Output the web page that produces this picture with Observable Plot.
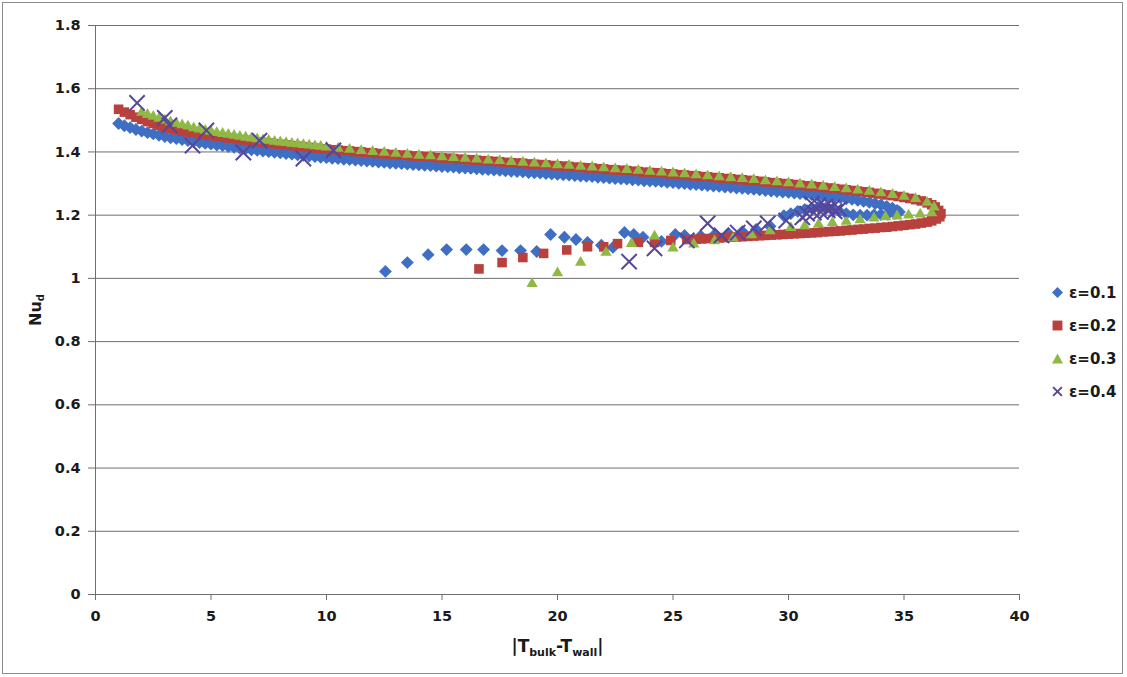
<!DOCTYPE html>
<html><head><meta charset="utf-8">
<script src="https://cdn.jsdelivr.net/npm/d3@7"></script>
<script src="https://cdn.jsdelivr.net/npm/@observablehq/plot@0.6"></script>
<style>
body{margin:0;background:#fff;}
#wrap{position:relative;width:1127px;height:677px;overflow:hidden;font-family:"DejaVu Sans",sans-serif;color:#1a1a1a;}
#frame{position:absolute;left:2px;top:2px;width:1121px;height:672px;border:1px solid #8c8c8c;box-sizing:border-box;pointer-events:none;}
#chart{position:absolute;left:0;top:0;}
.xt{position:absolute;left:0;width:1115px;text-align:center;top:636px;font-weight:bold;font-size:17px;}
.xt sub{font-size:11px;vertical-align:-4px;}
.yt{position:absolute;left:36px;top:310px;transform:translate(-50%,-50%) rotate(-90deg);font-weight:bold;font-size:16px;white-space:nowrap;}
.yt sub{font-size:10px;vertical-align:-3px;}
#legend{position:absolute;left:1052px;top:276px;font-weight:bold;font-size:15px;}
#legend .row{display:flex;align-items:center;height:33px;}
#legend svg{margin-right:6px;}
</style></head>
<body>
<div id="wrap">
  <div id="chart"></div>
  <div class="yt">Nu<sub>d</sub></div>
  <div class="xt">|T<sub>bulk</sub>-T<sub>wall</sub>|</div>
  <div id="legend"></div>
  <div id="frame"></div>
</div>
<script>
const seriesNames = ["ε=0.1", "ε=0.2", "ε=0.3", "ε=0.4"];
const xTicks = [0, 5, 10, 15, 20, 25, 30, 35, 40];
const yTicks = [0, 0.2, 0.4, 0.6, 0.8, 1, 1.2, 1.4, 1.6, 1.8];

// ε=0.1  [|Tbulk-Twall|, Nu_d]
const blueUpper = [[1,1.49],[1.25,1.483],[1.5,1.477],[1.75,1.471],[2,1.466],[2.25,1.461],[2.5,1.457],[2.75,1.453],[3,1.449],[3.25,1.445],[3.5,1.442],[3.75,1.439],[4,1.436],[4.25,1.433],[4.5,1.43],[4.75,1.427],[5,1.425],[5.25,1.422],[5.5,1.42],[5.75,1.417],[6,1.415],[6.25,1.412],[6.5,1.41],[6.75,1.407],[7,1.405],[7.25,1.403],[7.5,1.401],[7.75,1.399],[8,1.397],[8.25,1.395],[8.5,1.393],[8.75,1.391],[9,1.389],[9.25,1.387],[9.5,1.385],[9.75,1.383],[10,1.382],[10.25,1.38],[10.5,1.379],[10.75,1.377],[11,1.376],[11.25,1.374],[11.5,1.373],[11.75,1.371],[12,1.37],[12.25,1.368],[12.5,1.367],[12.75,1.365],[13,1.364],[13.25,1.363],[13.5,1.362],[13.75,1.36],[14,1.359],[14.25,1.358],[14.5,1.357],[14.75,1.355],[15,1.354],[15.25,1.353],[15.5,1.352],[15.75,1.35],[16,1.349],[16.25,1.348],[16.5,1.347],[16.75,1.345],[17,1.344],[17.25,1.343],[17.5,1.342],[17.75,1.34],[18,1.339],[18.25,1.338],[18.5,1.337],[18.75,1.335],[19,1.334],[19.25,1.333],[19.5,1.332],[19.75,1.33],[20,1.329],[20.25,1.328],[20.5,1.327],[20.75,1.325],[21,1.324],[21.25,1.323],[21.5,1.322],[21.75,1.32],[22,1.319],[22.25,1.317],[22.5,1.316],[22.75,1.315],[23,1.314],[23.25,1.312],[23.5,1.311],[23.75,1.309],[24,1.308],[24.25,1.307],[24.5,1.306],[24.75,1.304],[25,1.303],[25.25,1.301],[25.5,1.3],[25.75,1.298],[26,1.297],[26.25,1.295],[26.5,1.294],[26.75,1.292],[27,1.291],[27.25,1.289],[27.5,1.288],[27.75,1.286],[28,1.285],[28.25,1.283],[28.5,1.282],[28.75,1.28],[29,1.278],[29.25,1.276],[29.5,1.275],[29.75,1.273],[30,1.272],[30.25,1.27],[30.5,1.268],[30.75,1.266],[31,1.265],[31.25,1.263],[31.5,1.261],[31.75,1.259],[32,1.257],[32.25,1.255],[32.5,1.252],[32.75,1.25],[33,1.247],[33.25,1.244],[33.5,1.241],[33.75,1.237],[34,1.233],[34.25,1.228],[34.5,1.222],[34.7,1.215],[34.8,1.21]];
const blueLower = [[34.6,1.205],[34.3,1.203],[34,1.202],[33.7,1.201],[33.4,1.2],[33.1,1.2],[32.8,1.201],[32.5,1.205],[32.2,1.212],[31.9,1.218],[31.6,1.222],[31.3,1.225],[31,1.222],[30.7,1.218],[30.4,1.212],[30.1,1.205],[29.8,1.198],[29.2,1.165],[28.6,1.155],[28,1.148],[27.4,1.142],[26.8,1.138],[26.2,1.134],[25.5,1.136],[25.1,1.139],[24.5,1.117],[23.7,1.13],[23.3,1.139],[22.9,1.145],[22.4,1.098],[21.9,1.105],[21.3,1.114],[20.8,1.123],[20.3,1.13],[19.7,1.139],[19.1,1.085],[18.4,1.088],[17.6,1.088],[16.8,1.091],[16.05,1.091],[15.2,1.091],[14.4,1.075],[13.5,1.05],[12.55,1.022]];

// ε=0.2
const redUpper = [[1,1.535],[1.25,1.526],[1.5,1.518],[1.75,1.51],[2,1.503],[2.25,1.496],[2.5,1.49],[2.75,1.484],[3,1.479],[3.25,1.474],[3.5,1.47],[3.75,1.466],[4,1.463],[4.25,1.46],[4.5,1.457],[4.75,1.454],[5,1.452],[5.25,1.449],[5.5,1.447],[5.75,1.444],[6,1.442],[6.25,1.439],[6.5,1.437],[6.75,1.434],[7,1.432],[7.25,1.43],[7.5,1.428],[7.75,1.426],[8,1.424],[8.25,1.422],[8.5,1.42],[8.75,1.418],[9,1.416],[9.25,1.414],[9.5,1.412],[9.75,1.41],[10,1.409],[10.25,1.407],[10.5,1.406],[10.75,1.404],[11,1.403],[11.25,1.401],[11.5,1.4],[11.75,1.398],[12,1.397],[12.25,1.395],[12.5,1.394],[12.75,1.392],[13,1.391],[13.25,1.39],[13.5,1.389],[13.75,1.387],[14,1.386],[14.25,1.385],[14.5,1.384],[14.75,1.382],[15,1.381],[15.25,1.38],[15.5,1.379],[15.75,1.377],[16,1.376],[16.25,1.375],[16.5,1.374],[16.75,1.372],[17,1.371],[17.25,1.37],[17.5,1.369],[17.75,1.367],[18,1.366],[18.25,1.365],[18.5,1.364],[18.75,1.362],[19,1.361],[19.25,1.36],[19.5,1.359],[19.75,1.357],[20,1.356],[20.25,1.355],[20.5,1.354],[20.75,1.352],[21,1.351],[21.25,1.35],[21.5,1.349],[21.75,1.347],[22,1.346],[22.25,1.344],[22.5,1.343],[22.75,1.342],[23,1.341],[23.25,1.339],[23.5,1.338],[23.75,1.336],[24,1.335],[24.25,1.334],[24.5,1.333],[24.75,1.331],[25,1.33],[25.25,1.328],[25.5,1.327],[25.75,1.325],[26,1.324],[26.25,1.322],[26.5,1.321],[26.75,1.319],[27,1.318],[27.25,1.316],[27.5,1.315],[27.75,1.313],[28,1.312],[28.25,1.31],[28.5,1.309],[28.75,1.307],[29,1.305],[29.25,1.303],[29.5,1.302],[29.75,1.3],[30,1.299],[30.25,1.297],[30.5,1.295],[30.75,1.293],[31,1.292],[31.25,1.29],[31.5,1.288],[31.75,1.286],[32,1.284],[32.25,1.282],[32.5,1.28],[32.75,1.278],[33,1.276],[33.25,1.274],[33.5,1.272],[33.75,1.269],[34,1.267],[34.25,1.264],[34.5,1.262],[34.75,1.259],[35,1.256],[35.25,1.253],[35.5,1.249],[35.75,1.245],[36,1.239],[36.2,1.233],[36.35,1.226],[36.5,1.215],[36.6,1.205]];
const redLower = [[36.55,1.195],[36.4,1.188],[36.2,1.182],[36,1.178],[35.75,1.175],[35.5,1.172],[35.25,1.17],[35,1.168],[34.75,1.166],[34.5,1.164],[34.25,1.162],[34,1.161],[33.75,1.159],[33.5,1.158],[33.25,1.156],[33,1.155],[32.75,1.153],[32.5,1.152],[32.25,1.15],[32,1.149],[31.75,1.148],[31.5,1.147],[31.25,1.145],[31,1.144],[30.75,1.143],[30.5,1.142],[30.25,1.141],[30,1.14],[29.75,1.139],[29.5,1.138],[29.25,1.137],[29,1.136],[28.75,1.135],[28.5,1.134],[28.25,1.133],[28,1.132],[27.75,1.131],[27.5,1.13],[27.25,1.129],[27,1.128],[26.75,1.127],[26.5,1.126],[26.25,1.125],[26,1.124],[25.6,1.123],[24.9,1.12],[24.2,1.114],[23.5,1.114],[22.6,1.11],[22,1.1],[21.3,1.1],[20.4,1.09],[19.4,1.079],[18.5,1.066],[17.6,1.05],[16.6,1.03]];

// ε=0.3
const greenUpper = [[2,1.525],[2.25,1.518],[2.5,1.512],[2.75,1.506],[3,1.5],[3.25,1.495],[3.5,1.49],[3.75,1.485],[4,1.481],[4.25,1.476],[4.5,1.472],[4.75,1.468],[5,1.465],[5.25,1.461],[5.5,1.458],[5.75,1.455],[6,1.452],[6.25,1.449],[6.5,1.446],[6.75,1.443],[7,1.441],[7.25,1.438],[7.5,1.436],[7.75,1.433],[8,1.431],[8.25,1.429],[8.5,1.427],[8.75,1.425],[9,1.423],[9.25,1.421],[9.5,1.419],[9.75,1.417],[10,1.415],[10.5,1.411],[11,1.408],[11.5,1.404],[12,1.401],[12.5,1.398],[13,1.395],[13.5,1.392],[14,1.389],[14.5,1.387],[15,1.384],[15.5,1.382],[16,1.379],[16.5,1.377],[17,1.374],[17.5,1.372],[18,1.369],[18.5,1.367],[19,1.364],[19.5,1.362],[20,1.359],[20.5,1.357],[21,1.354],[21.5,1.352],[22,1.349],[22.5,1.346],[23,1.344],[23.5,1.341],[24,1.338],[24.5,1.336],[25,1.333],[25.5,1.33],[26,1.327],[26.5,1.324],[27,1.321],[27.5,1.318],[28,1.315],[28.5,1.312],[29,1.308],[29.5,1.305],[30,1.302],[30.5,1.298],[31,1.295],[31.5,1.291],[32,1.287],[32.5,1.283],[33,1.279],[33.5,1.275],[34,1.27],[34.5,1.265],[35,1.259],[35.5,1.252],[36,1.24],[36.3,1.225]];
const greenLower = [[36.2,1.207],[35.7,1.203],[35.2,1.2],[34.7,1.197],[34.2,1.194],[33.7,1.19],[33.1,1.185],[32.5,1.18],[31.9,1.176],[31.3,1.171],[30.7,1.166],[30.1,1.16],[29.2,1.15],[28.4,1.137],[27.6,1.127],[26.8,1.118],[25.9,1.108],[25,1.095],[24.2,1.133],[23.2,1.11],[22.1,1.082],[21,1.05],[20,1.017],[18.9,0.983]];

// ε=0.4
const purpleUpper = [[1.8,1.555],[3,1.508],[3.2,1.484],[4.2,1.42],[4.8,1.468],[6.4,1.398],[7.1,1.436],[9,1.379],[10.3,1.405]];
const purpleLower = [[31,1.237],[31.3,1.232],[31.6,1.228],[31.9,1.225],[32.2,1.22],[32,1.212],[31.7,1.215],[31.4,1.21],[31.1,1.208],[30.8,1.205],[30.6,1.193],[29.9,1.183],[29.1,1.174],[28.5,1.158],[27.8,1.145],[27.1,1.136],[26.5,1.174],[25.6,1.12],[24.2,1.095],[23.1,1.053]];

const colors = ["#3f6fc4", "#b8403d", "#8fb944", "#54479c"];
const rows = (...parts) => parts.flat().map(([x, y]) => ({x, y}));
const blue = rows(blueUpper, blueLower), red = rows(redUpper, redLower),
      green = rows(greenUpper, greenLower), purple = rows(purpleUpper, purpleLower);

const chart = Plot.plot({
  width: 1030, height: 677,
  marginLeft: 95, marginRight: 11, marginTop: 25, marginBottom: 83,
  style: {fontFamily: "DejaVu Sans, sans-serif", fontSize: "14.5px", fontWeight: "bold", color: "#1a1a1a", background: "transparent"},
  x: {domain: [0, 40]},
  y: {domain: [0, 1.8]},
  marks: [
    Plot.ruleY(yTicks, {stroke: "#6e6e6e", strokeWidth: 1, strokeOpacity: 1}),
    Plot.ruleX([0], {stroke: "#6e6e6e", strokeWidth: 1, strokeOpacity: 1}),
    Plot.axisY({ticks: yTicks, tickSize: 7, tickPadding: 8, tickFormat: d => String(d), stroke: "#6e6e6e", label: null}),
    Plot.axisX({ticks: xTicks, tickSize: 6, tickPadding: 10, tickFormat: d => String(d), stroke: "#6e6e6e", label: null}),
    Plot.dot(blue, {x: "x", y: "y", symbol: "diamond2", r: 5.8, fill: colors[0], stroke: "none"}),
    Plot.dot(red, {x: "x", y: "y", symbol: "square", r: 5.4, fill: colors[1], stroke: "none"}),
    Plot.dot(green, {x: "x", y: "y", symbol: "triangle", r: 4.2, fill: colors[2], stroke: "none"}),
    Plot.dot(purple, {x: "x", y: "y", symbol: "times", r: 7, stroke: colors[3], strokeWidth: 2, fill: "none"})
  ]
});
document.getElementById("chart").appendChild(chart);

// legend
const symbolPaths = [
  "M5,0 L10,5 L5,10 L0,5 Z",
  "M0.5,0.5 H9.5 V9.5 H0.5 Z",
  "M5,0.5 L10,9.5 L0,9.5 Z",
  null
];
const legend = document.getElementById("legend");
seriesNames.forEach((name, i) => {
  const row = document.createElement("div");
  row.className = "row";
  const sym = symbolPaths[i]
    ? `<svg width="11" height="11" viewBox="0 0 10 10"><path d="${symbolPaths[i]}" fill="${colors[i]}"/></svg>`
    : `<svg width="11" height="11" viewBox="0 0 10 10"><path d="M1,1 L9,9 M9,1 L1,9" stroke="${colors[i]}" stroke-width="1.8"/></svg>`;
  row.innerHTML = sym + `<span>${name}</span>`;
  legend.appendChild(row);
});
</script>
</body></html>
